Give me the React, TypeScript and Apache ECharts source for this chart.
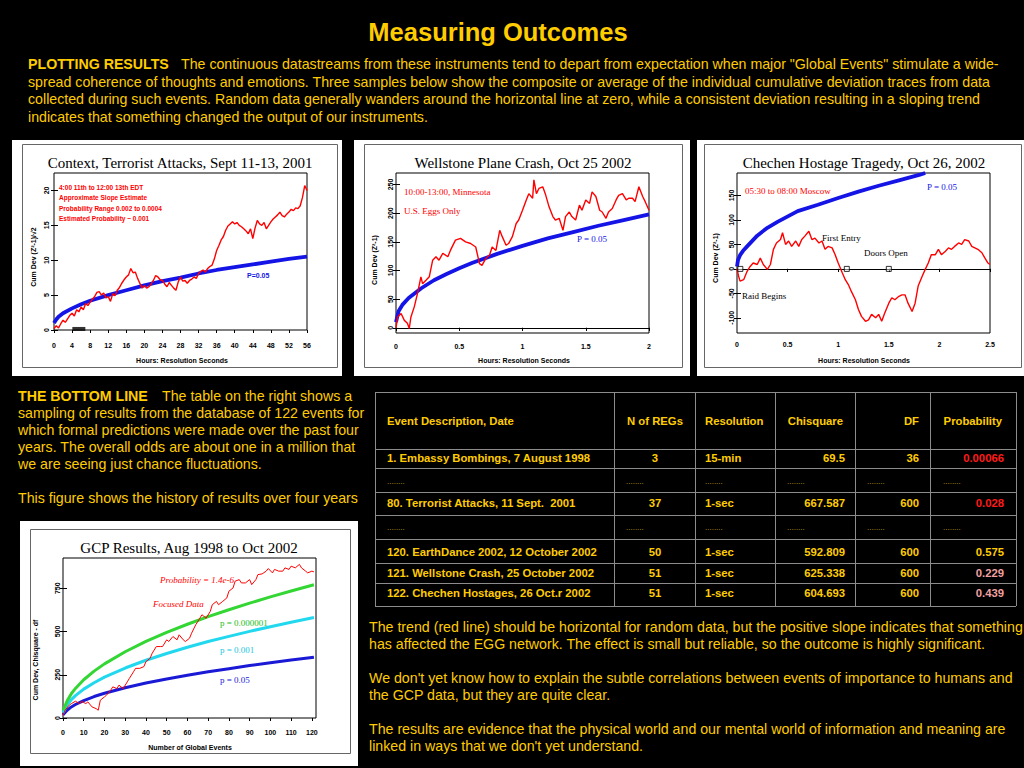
import React, { useEffect, useRef } from "react";
import * as echarts from "echarts";

const YELLOW = "#FFCC00";
const SANS = '"Liberation Sans", Arial, sans-serif';
const SERIF = '"Liberation Serif", "Times New Roman", serif';

// ---------- Chart 1: Context, Terrorist Attacks ----------
const c1Step = 0.5; // hours between samples
const c1Dev = [
  0.2, 0.6, 0.3, 0.9, 1.4, 1.1, 1.6, 2.1, 2.4, 2.0, 2.9, 2.6, 3.3, 2.9, 3.8, 3.5, 4.0, 4.4, 4.8, 5.4,
  5.5, 5.0, 5.3, 4.6, 4.8, 4.1, 5.2, 4.9, 5.7, 6.1, 6.7, 7.2, 7.6, 7.9, 8.8, 8.2, 8.3, 7.4, 6.7, 6.0,
  6.4, 6.0, 6.2, 6.6, 7.1, 7.8, 7.6, 7.2, 7.1, 6.6, 6.2, 6.8, 6.4, 6.0, 5.7, 6.9, 7.6, 7.0, 7.1, 6.7,
  7.1, 7.3, 7.6, 7.4, 8.1, 8.4, 8.6, 8.3, 8.8, 9.1, 9.3, 10.2, 11.4, 12.1, 12.9, 13.4, 14.3, 14.9, 15.2, 15.5,
  15.2, 15.4, 15.0, 14.8, 14.5, 14.2, 13.8, 14.5, 13.1, 14.6, 15.7, 15.2, 15.0, 15.4, 14.5, 15.0, 15.5, 15.9, 16.2, 16.5,
  16.9, 16.4, 16.2, 16.6, 16.9, 17.3, 17.1, 17.5, 17.4, 17.8, 19.0, 20.7, 20.0,
];
const c1P05X = [0, 0.5, 1, 2, 4, 6, 8, 12, 16, 20, 24, 28, 32, 36, 40, 44, 48, 52, 56];
const c1P05Y = [1.0, 1.5, 1.9, 2.4, 3.1, 3.7, 4.2, 5.0, 5.7, 6.4, 7.0, 7.5, 8.1, 8.6, 9.0, 9.4, 9.8, 10.2, 10.5];
const c1XTicks = [0, 4, 8, 12, 16, 20, 24, 28, 32, 36, 40, 44, 48, 52, 56];
const c1YTicks = [0, 5, 10, 15, 20];

// ---------- Chart 2: Wellstone Plane Crash ----------
const c2X = [0, 0.013, 0.04, 0.066, 0.09, 0.105, 0.118, 0.145, 0.17, 0.197, 0.21, 0.237, 0.263, 0.29, 0.316,
  0.34, 0.37, 0.41, 0.43, 0.47, 0.51, 0.55, 0.59, 0.63, 0.66, 0.68, 0.71, 0.74, 0.76, 0.79, 0.82, 0.84, 0.87,
  0.89, 0.92, 0.95, 0.97, 1.0, 1.03, 1.05, 1.08, 1.09, 1.11, 1.13, 1.16, 1.18, 1.21, 1.24, 1.26, 1.29, 1.32,
  1.34, 1.37, 1.39, 1.42, 1.45, 1.47, 1.5, 1.53, 1.55, 1.58, 1.61, 1.63, 1.66, 1.68, 1.71, 1.74, 1.76, 1.79,
  1.82, 1.84, 1.87, 1.89, 1.92, 1.95, 1.97, 2.0];
const c2Y = [0, 19, 25, 13, 8, -1, 19, 37, 60, 89, 77, 83, 89, 118, 124, 118, 130, 124, 135, 153, 156, 150,
  147, 141, 112, 109, 121, 127, 141, 135, 170, 159, 144, 147, 159, 182, 188, 205, 223, 234, 226, 258, 234, 243,
  246, 234, 211, 194, 188, 191, 170, 194, 202, 194, 188, 214, 205, 223, 217, 237, 229, 205, 202, 191, 202, 208,
  223, 231, 234, 223, 226, 226, 220, 246, 229, 220, 205];
const c2P05X = [0, 0.02, 0.05, 0.1, 0.2, 0.3, 0.4, 0.5, 0.6, 0.8, 1.0, 1.2, 1.4, 1.6, 1.8, 2.0];
const c2P05Y = [10, 29, 40, 52, 69, 83, 94, 104, 113, 129, 143, 156, 167, 178, 188, 198];
const c2XTicks = [0, 0.5, 1, 1.5, 2];
const c2YTicks = [0, 50, 100, 150, 200, 250];

// ---------- Chart 3: Chechen Hostage Tragedy ----------
const c3X = [0, 0.016, 0.03, 0.066, 0.1, 0.13, 0.16, 0.2, 0.23, 0.26, 0.3, 0.33, 0.36, 0.39, 0.43, 0.45, 0.48,
  0.51, 0.54, 0.58, 0.61, 0.64, 0.67, 0.71, 0.74, 0.77, 0.81, 0.84, 0.87, 0.9, 0.94, 0.97, 1.0, 1.04, 1.07, 1.1,
  1.13, 1.17, 1.2, 1.23, 1.27, 1.3, 1.33, 1.37, 1.4, 1.43, 1.46, 1.5, 1.53, 1.56, 1.6, 1.63, 1.66, 1.69, 1.73,
  1.76, 1.79, 1.83, 1.86, 1.89, 1.92, 1.96, 1.99, 2.02, 2.06, 2.09, 2.12, 2.15, 2.19, 2.22, 2.25, 2.29, 2.32,
  2.35, 2.38, 2.42, 2.45, 2.48, 2.5];
const c3Y = [0, -15, -25, -22, -5, 5, 12, 9, 22, 9, -1, 9, 40, 53, 60, 74, 50, 57, 46, 57, 46, 60, 67, 77, 60,
  63, 53, 57, 40, 46, 43, 29, 12, -8, -22, -32, -46, -63, -83, -97, -107, -104, -93, -100, -93, -107, -90, -70,
  -59, -63, -56, -53, -53, -70, -87, -70, -35, -15, -1, 12, 29, 29, 40, 29, 36, 43, 40, 46, 53, 50, 60, 57, 46,
  43, 40, 33, 22, 12, 9];
const c3P05X = [0, 0.01, 0.03, 0.06, 0.1, 0.2, 0.3, 0.4, 0.6, 0.8, 1.0, 1.2, 1.4, 1.6, 1.8, 1.86];
const c3P05Y = [5, 18, 28, 37, 46, 68, 84, 96, 118, 131, 145, 158, 170, 181, 192, 196];
const c3EventX = [0.033, 1.085, 1.5];
const c3XTicks = [0, 0.5, 1, 1.5, 2, 2.5];
const c3YTicks = [-100, -50, 0, 50, 100, 150];

// ---------- Chart 4: GCP Results ----------
const c4N = [0, 1, 3, 4, 6, 8, 9, 11, 12, 14, 16, 17, 18, 20, 21, 23, 24, 26, 27, 29, 31, 32, 34, 35, 37, 39,
  40, 42, 43, 45, 47, 48, 50, 51, 53, 55, 56, 58, 59, 61, 62, 64, 66, 67, 69, 71, 72, 74, 75, 77, 79, 80, 82,
  83, 85, 86, 88, 90, 91, 93, 94, 96, 98, 99, 101, 102, 104, 106, 107, 109, 110, 112, 114, 115, 117, 118, 120, 121];
const c4Red = [15, 45, 74, 83, 97, 83, 97, 83, 93, 64, 54, 45, 103, 122, 132, 161, 180, 170, 190, 170, 209, 229,
  267, 287, 287, 297, 326, 345, 374, 413, 413, 413, 452, 442, 471, 452, 481, 452, 442, 461, 490, 539, 577, 597,
  577, 616, 655, 674, 655, 674, 694, 733, 752, 791, 800, 781, 781, 800, 771, 800, 829, 833, 849, 864, 839, 859,
  849, 849, 868, 859, 878, 868, 888, 868, 849, 839, 849, 845];
const c4CurveN = [0, 1, 2, 4, 6, 10, 15, 20, 30, 40, 50, 60, 70, 80, 90, 100, 110, 121];
const c4Green = [45, 70, 99, 140, 171, 221, 271, 313, 383, 443, 495, 542, 586, 626, 664, 700, 734, 770];
const c4Cyan = [30, 53, 75, 106, 129, 167, 204, 236, 289, 334, 373, 409, 442, 472, 501, 528, 554, 581];
const c4Blue = [18, 32, 45, 64, 78, 101, 124, 143, 175, 202, 226, 247, 267, 285, 303, 319, 335, 351];
const c4XTicks = [0, 10, 20, 30, 40, 50, 60, 70, 80, 90, 100, 110, 120];
const c4YTicks = [0, 250, 500, 750];

// ---------- Table ----------
const tableHeader = ["Event Description, Date", "N of REGs", "Resolution", "Chisquare", "DF", "Probability"];
const DOTS = "........";
const tableEvent = ["1. Embassy Bombings, 7 August 1998", DOTS, "80. Terrorist Attacks, 11 Sept.  2001", DOTS,
  "120. EarthDance 2002, 12 October 2002", "121. Wellstone Crash, 25 October 2002", "122. Chechen Hostages, 26 Oct.r 2002"];
const tableRegs = ["3", DOTS, "37", DOTS, "50", "51", "51"];
const tableRes = ["15-min", DOTS, "1-sec", DOTS, "1-sec", "1-sec", "1-sec"];
const tableChi = ["69.5", DOTS, "667.587", DOTS, "592.809", "625.338", "604.693"];
const tableDf = ["36", DOTS, "600", DOTS, "600", "600", "600"];
const tableProb = ["0.00066", DOTS, "0.028", DOTS, "0.575", "0.229", "0.439"];
const tableProbColor = ["#FF1A1A", YELLOW, "#FF1A1A", YELLOW, YELLOW, "#F0A0A0", "#F0A0A0"];

const introLines = [
  "The continuous datastreams from these instruments tend to depart from expectation when major \"Global Events\" stimulate a wide-",
  "spread coherence of thoughts and emotions. Three samples below show the composite or average of the individual cumulative deviation traces from data",
  "collected during such events. Random data generally wanders around the horizontal line at zero, while a consistent deviation resulting in a sloping trend",
  "indicates that something changed the output of our instruments.",
];
const bottomLineLines = [
  "The table on the right shows a",
  "sampling of results from the database of 122 events for",
  "which formal predictions were made over the past four",
  "years. The overall odds are about one in a million that",
  "we are seeing just chance fluctuations.",
];
const closingLines = [
  "The trend (red line) should be horizontal for random data, but the positive slope indicates that something",
  "has affected the EGG network. The effect is small but reliable, so the outcome is highly significant.",
  "",
  "We don't yet know how to explain the subtle correlations between events of importance to humans and",
  "the GCP data, but they are quite clear.",
  "",
  "The results are evidence that the physical world and our mental world of information and meaning are",
  "linked in ways that we don't yet understand.",
];

type TOpt = { fill?: string; size?: number; family?: string; weight?: string; italic?: boolean; align?: string; rot?: number };
function T(x: number, y: number, text: string, o: TOpt = {}) {
  return {
    type: "text", x, y, z: 20, rotation: o.rot ?? 0, silent: true,
    style: {
      text, fill: o.fill ?? YELLOW, fontSize: o.size ?? 14, fontFamily: o.family ?? SANS,
      fontWeight: o.weight ?? "normal", fontStyle: o.italic ? "italic" : "normal",
      align: o.align ?? "left", verticalAlign: "middle",
    },
  };
}
function L(x1: number, y1: number, x2: number, y2: number, stroke: string) {
  return { type: "line", z: 20, silent: true, shape: { x1, y1, x2, y2 }, style: { stroke, lineWidth: 1 } };
}
function R(x: number, y: number, w: number, h: number, fill: string, stroke?: string, z = 1) {
  return { type: "rect", z, silent: true, shape: { x, y, width: w, height: h },
    style: stroke ? { fill: "none", stroke, lineWidth: 1 } : { fill } };
}

function buildOption() {
  const gridBoxes = [
    { left: 54, top: 173, width: 253, height: 157 },
    { left: 396, top: 173, width: 253, height: 160 },
    { left: 737, top: 173, width: 253, height: 160 },
    { left: 63, top: 558, width: 253, height: 160 },
  ];
  const specs = [
    { x: [0, 56], xt: c1XTicks, y: [0, 22.5], yt: c1YTicks, xm: 12, ym: 4 },
    { x: [0, 2], xt: c2XTicks, y: [-9, 270], yt: c2YTicks, xm: 10, ym: 2 },
    { x: [0, 2.5], xt: c3XTicks, y: [-131, 196], yt: c3YTicks, xm: 8, ym: 2 },
    { x: [0, 122], xt: c4XTicks, y: [0, 925], yt: c4YTicks, xm: 11, ym: 2 },
  ];
  const lbl = { fontSize: 7, fontWeight: "bold", fontFamily: SANS, color: "#000" };
  const tickStyle = { color: "#000", width: 1 };
  const xAxis: any[] = [];
  const yAxis: any[] = [];
  specs.forEach((s, gi) => {
    xAxis.push({ gridIndex: gi, type: "value", position: "bottom", min: s.x[0], max: s.x[1], z: 3,
      axisLine: { show: false }, splitLine: { show: false },
      axisTick: { show: true, customValues: s.xt, length: 3, lineStyle: tickStyle },
      axisLabel: { ...lbl, customValues: s.xt, margin: s.xm } });
    xAxis.push({ gridIndex: gi, type: "value", position: "top", min: s.x[0], max: s.x[1], z: 3,
      axisLine: { show: false }, splitLine: { show: false },
      axisTick: { show: true, inside: true, customValues: s.xt, length: 3, lineStyle: tickStyle },
      axisLabel: { show: false } });
    yAxis.push({ gridIndex: gi, type: "value", position: "left", min: s.y[0], max: s.y[1], z: 3,
      axisLine: { show: false }, splitLine: { show: false },
      axisTick: { show: true, customValues: s.yt, length: 3, lineStyle: tickStyle },
      axisLabel: { ...lbl, customValues: s.yt, rotate: 90, margin: s.ym } });
    yAxis.push({ gridIndex: gi, type: "value", position: "right", min: s.y[0], max: s.y[1], z: 3,
      axisLine: { show: false }, splitLine: { show: false },
      axisTick: { show: true, customValues: s.yt, length: 4, lineStyle: tickStyle },
      axisLabel: { show: false } });
  });

  const line = (gi: number, xs: number[], ys: number[], color: string, width: number, extra: any = {}) => ({
    type: "line", xAxisIndex: gi * 2, yAxisIndex: gi * 2, data: xs.map((x, i) => [x, ys[i]]),
    symbol: "none", showSymbol: false, silent: true, z: 5, clip: true,
    lineStyle: { color, width }, itemStyle: { color }, ...extra,
  });
  const zeroLine = { silent: true, symbol: "none", label: { show: false },
    lineStyle: { color: "#000", width: 1, type: "solid" }, data: [{ yAxis: 0 }] };

  const RED = "#FF0000";
  const BLUE = "#1414E6";
  const series: any[] = [
    line(0, c1P05X, c1P05Y, BLUE, 3.8),
    line(0, c1Dev.map((_, i) => i * c1Step), c1Dev, RED, 1.4),
    { type: "scatter", xAxisIndex: 0, yAxisIndex: 0, data: [[5.5, 0.15]], symbol: "rect", symbolSize: [13, 4],
      itemStyle: { color: "#000" }, silent: true, z: 6 },
    line(1, c2P05X, c2P05Y, BLUE, 3.8),
    line(1, c2X, c2Y, RED, 1.4, { markLine: zeroLine }),
    line(2, c3P05X, c3P05Y, BLUE, 3.8),
    line(2, c3X, c3Y, RED, 1.4, { markLine: zeroLine }),
    { type: "scatter", xAxisIndex: 4, yAxisIndex: 4, data: c3EventX.map((x) => [x, 0]), symbol: "rect", symbolSize: 5,
      itemStyle: { color: "rgba(255,255,255,0.6)", borderColor: "#000", borderWidth: 1 }, silent: true, z: 7 },
    line(3, c4CurveN, c4Blue, "#1A1AD6", 3),
    line(3, c4CurveN, c4Cyan, "#22D8EE", 3),
    line(3, c4CurveN, c4Green, "#33D633", 3),
    line(3, c4N, c4Red, RED, 1),
  ];

  const g: any[] = [];
  const P = 14.2;
  // Title & intro
  g.push(T(498, 32, "Measuring Outcomes", { size: 25.5, weight: "bold", align: "center" }));
  g.push(T(28, 64, "PLOTTING RESULTS", { weight: "bold", size: P }));
  introLines.forEach((t, i) => g.push(T(i === 0 ? 181 : 28, 64 + i * 17.6, t, { size: P })));

  // Chart boxes
  g.push(R(12, 140, 330, 236, "#fff"));
  g.push(R(22.5, 144.5, 315, 223, "", "#666", 2));
  g.push(R(354, 140, 336, 236, "#fff"));
  g.push(R(364.5, 144.5, 318, 223, "", "#666", 2));
  g.push(R(697, 140, 327, 236, "#fff"));
  g.push(R(704.5, 144.5, 317, 223, "", "#666", 2));
  g.push(R(20, 521, 338, 245, "#fff"));
  g.push(R(30.5, 529.5, 320, 224, "", "#666", 2));

  const tt = { fill: "#000", size: 15, family: SERIF, align: "center" };
  const ax = { fill: "#000", size: 7, weight: "bold", align: "center" };
  // Chart 1 texts
  g.push(T(180, 163, "Context, Terrorist Attacks, Sept 11-13, 2001", tt));
  g.push(T(182, 360, "Hours: Resolution Seconds", ax));
  g.push(T(33, 257, "Cum Dev (Z²-1)/√2", { ...ax, rot: Math.PI / 2 }));
  const a1 = { fill: RED, size: 6.5, weight: "bold" };
  g.push(T(59, 187, "4:00 11th to 12:00 13th EDT", a1));
  g.push(T(59, 197.5, "Approximate Slope Estimate", a1));
  g.push(T(59, 208, "Probability Range 0.002 to 0.0004", a1));
  g.push(T(59, 218.5, "Estimated Probability ~ 0.001", a1));
  g.push(T(247, 275, "P=0.05", { fill: BLUE, size: 7, weight: "bold" }));
  // Chart 2 texts
  g.push(T(523, 163, "Wellstone Plane Crash, Oct 25 2002", tt));
  g.push(T(524, 360, "Hours: Resolution Seconds", ax));
  g.push(T(374, 260, "Cum Dev (Z²-1)", { ...ax, rot: Math.PI / 2 }));
  g.push(T(404, 192, "10:00-13:00, Minnesota", { fill: RED, size: 9, family: SERIF }));
  g.push(T(404, 211, "U.S. Eggs Only", { fill: RED, size: 9, family: SERIF }));
  g.push(T(577, 239, "P = 0.05", { fill: BLUE, size: 9, family: SERIF }));
  // Chart 3 texts
  g.push(T(864, 163, "Chechen Hostage Tragedy, Oct 26, 2002", tt));
  g.push(T(864, 360, "Hours: Resolution Seconds", ax));
  g.push(T(715, 258, "Cum Dev (Z²-1)", { ...ax, rot: Math.PI / 2 }));
  g.push(T(745, 191, "05:30 to 08:00 Moscow", { fill: RED, size: 9, family: SERIF }));
  g.push(T(927, 187, "P = 0.05", { fill: BLUE, size: 9, family: SERIF }));
  g.push(T(822, 238, "First Entry", { fill: "#000", size: 9, family: SERIF }));
  g.push(T(864, 253, "Doors Open", { fill: "#000", size: 9, family: SERIF }));
  g.push(T(742, 296, "Raid Begins", { fill: "#000", size: 9, family: SERIF }));
  // Chart 4 texts
  g.push(T(189, 548, "GCP Results, Aug 1998 to Oct 2002", tt));
  g.push(T(190, 747, "Number of Global Events", ax));
  g.push(T(35, 660, "Cum Dev, Chisquare - df", { ...ax, rot: Math.PI / 2 }));
  g.push(T(160, 580, "Probability = 1.4e-6", { fill: RED, size: 9, family: SERIF, italic: true }));
  g.push(T(153, 604, "Focused Data", { fill: RED, size: 9, family: SERIF, italic: true }));
  g.push(T(220, 623, "p = 0.000001", { fill: "#22C022", size: 9, family: SERIF }));
  g.push(T(220, 650, "p = 0.001", { fill: "#18C8E0", size: 9, family: SERIF }));
  g.push(T(220, 680, "p = 0.05", { fill: "#1A1AD6", size: 9, family: SERIF }));

  // Bottom line text
  g.push(T(18, 396, "THE BOTTOM LINE", { weight: "bold", size: P }));
  bottomLineLines.forEach((t, i) => g.push(T(i === 0 ? 162 : 18, 396 + i * 17, t, { size: P })));
  g.push(T(18, 498, "This figure shows the history of results over four years", { size: P }));

  // Table
  const colX = [375, 614, 695, 775, 855, 930, 1016];
  const rowY = [392, 449, 468, 492, 515, 539, 563, 583, 606];
  const lineC = "#8c8c8c";
  rowY.forEach((y) => g.push(L(colX[0], y + 0.5, colX[6], y + 0.5, lineC)));
  colX.forEach((x) => g.push(L(x + 0.5, rowY[0], x + 0.5, rowY[8], lineC)));
  const cellFont = { weight: "bold", size: 11.3 };
  const headY = 421;
  g.push(T(387, headY, tableHeader[0], cellFont));
  g.push(T(655, headY, tableHeader[1], { ...cellFont, align: "center" }));
  g.push(T(705, headY, tableHeader[2], cellFont));
  g.push(T(843, headY, tableHeader[3], { ...cellFont, align: "right" }));
  g.push(T(919, headY, tableHeader[4], { ...cellFont, align: "right" }));
  g.push(T(1002, headY, tableHeader[5], { ...cellFont, align: "right" }));
  const rowC = [458, 481, 503, 527, 552, 573, 593];
  const dotFont = { size: 8, fill: "#C8A000" };
  tableEvent.forEach((_, r) => {
    const y = rowC[r];
    if (tableEvent[r] === DOTS) {
      [387, 626, 705, 787, 867, 943].forEach((x) => g.push(T(x, y, DOTS, dotFont)));
      return;
    }
    g.push(T(387, y, tableEvent[r], cellFont));
    g.push(T(655, y, tableRegs[r], { ...cellFont, align: "center" }));
    g.push(T(705, y, tableRes[r], cellFont));
    g.push(T(845, y, tableChi[r], { ...cellFont, align: "right" }));
    g.push(T(919, y, tableDf[r], { ...cellFont, align: "right" }));
    g.push(T(1004, y, tableProb[r], { ...cellFont, align: "right", fill: tableProbColor[r] }));
  });

  // Closing text
  closingLines.forEach((t, i) => { if (t) g.push(T(369, 627 + i * 17, t, { size: P })); });

  return {
    animation: false,
    backgroundColor: "#000",
    grid: gridBoxes.map((b) => ({ ...b, show: true, borderColor: "#000", borderWidth: 1, backgroundColor: "transparent", z: 3 })),
    xAxis,
    yAxis,
    series,
    graphic: { elements: g },
  };
}

export default function App() {
  const ref = useRef<HTMLDivElement>(null);
  useEffect(() => {
    if (!ref.current) return;
    const chart = echarts.init(ref.current, null, { renderer: "svg" });
    chart.setOption(buildOption() as any);
    return () => chart.dispose();
  }, []);
  return (
    <div
      ref={ref}
      style={{ position: "absolute", left: 0, top: 0, width: 1024, height: 768, background: "#000" }}
    />
  );
}
